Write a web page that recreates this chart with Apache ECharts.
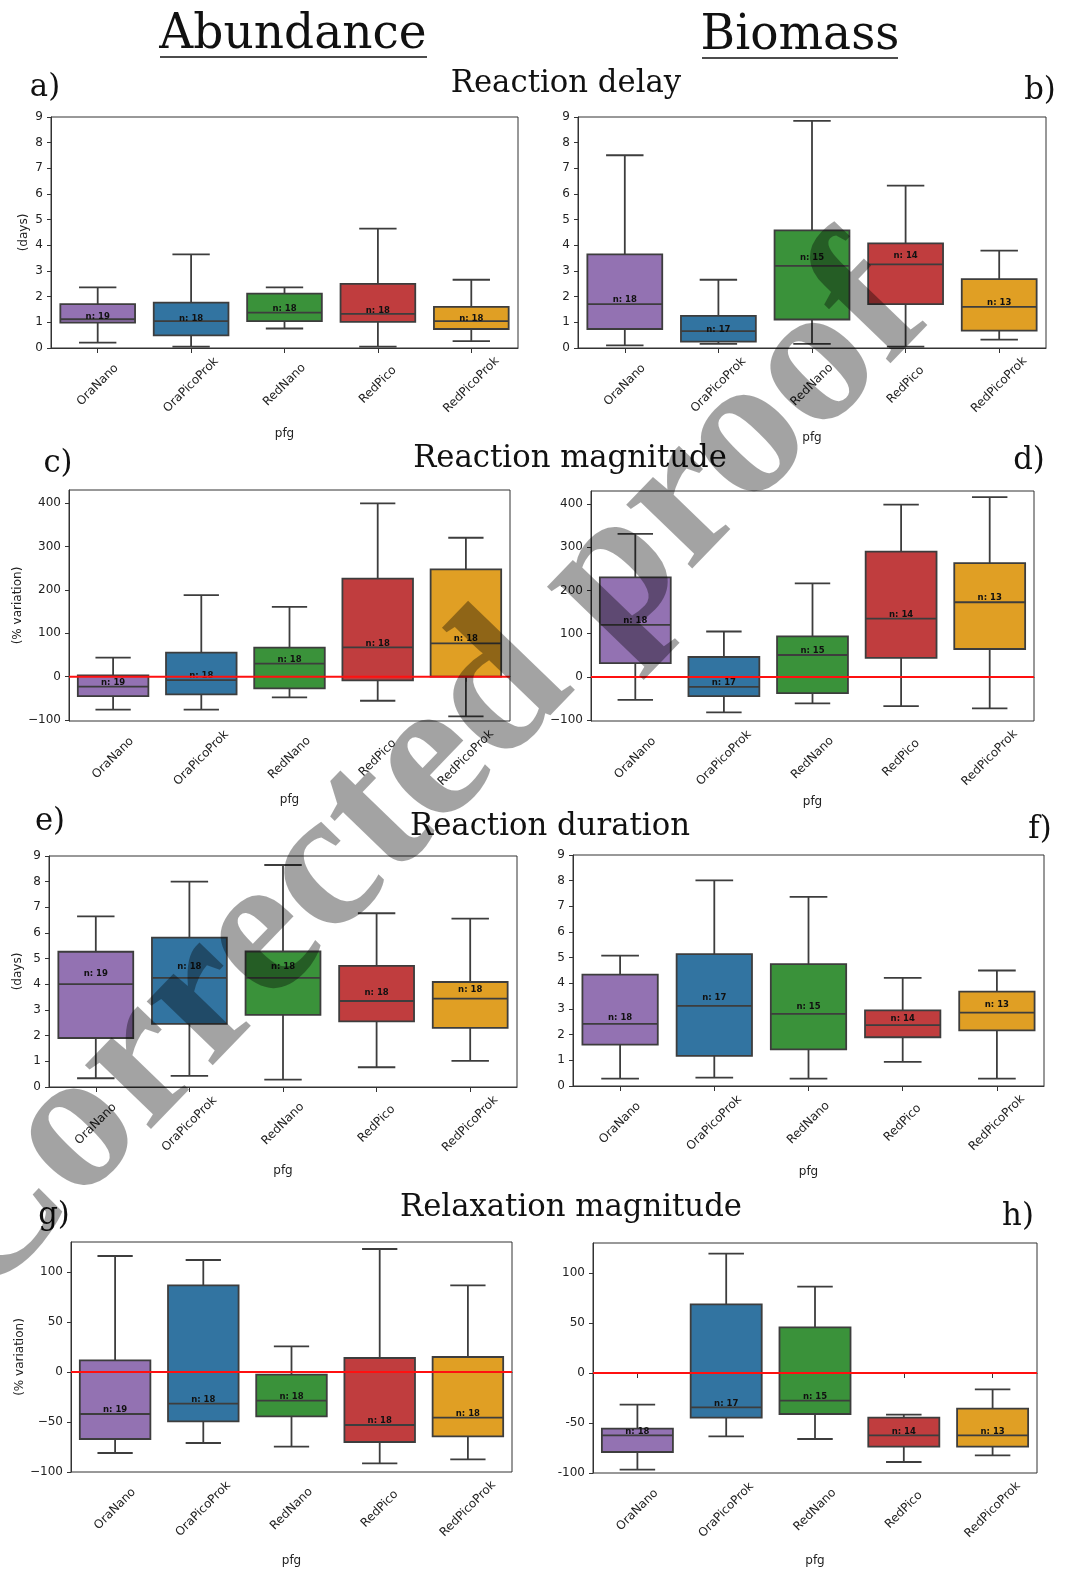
<!DOCTYPE html>
<html><head><meta charset="utf-8">
<script src="https://cdn.jsdelivr.net/npm/echarts@6/dist/echarts.min.js"></script>
<style>html,body{margin:0;padding:0;background:#fff}#c{width:1082px;height:1573px}</style>
</head><body><div id="c"></div><script>
const categories = ['OraNano', 'OraPicoProk', 'RedNano', 'RedPico', 'RedPicoProk'];
const boxColors = ['#9372b2', '#3274a1', '#3a923a', '#c03d3e', '#e09f24'];

// each box: [lower whisker, Q1, median, Q3, upper whisker]
const delayAbundance = [[0.21,0.99,1.12,1.71,2.36],[0.05,0.49,1.05,1.77,3.65],[0.76,1.05,1.38,2.12,2.36],[0.05,1.02,1.33,2.50,4.65],[0.27,0.74,1.05,1.60,2.66]];
const delayAbundanceN = [19,18,18,18,18];
const delayBiomass = [[0.10,0.74,1.71,3.65,7.51],[0.16,0.25,0.66,1.25,2.66],[0.16,1.11,3.20,4.58,8.85],[0.05,1.71,3.26,4.08,6.33],[0.33,0.68,1.60,2.68,3.79]];
const delayBiomassN = [18,17,15,14,13];
const magAbundance = [[-76,-44.6,-23,3,44],[-76,-40.8,-7.7,55.4,188],[-47.7,-27,30,67,161],[-55.4,-8.5,67.7,226,399],[-91.5,0,77,247,320]];
const magAbundanceN = [19,18,18,18,18];
const magBiomass = [[-53,32,120.5,230,331],[-82,-44.5,-23,46,105],[-61.4,-37.6,50.7,93.7,216.5],[-67.6,43.8,135,290,398.5],[-73,64.5,172.7,263,416]];
const magBiomassN = [18,17,15,14,13];
const durAbundance = [[0.34,1.91,4.01,5.27,6.65],[0.43,2.46,4.25,5.82,8.0],[0.29,2.81,4.25,5.28,8.65],[0.77,2.56,3.35,4.72,6.77],[1.02,2.30,3.44,4.09,6.56]];
const durAbundanceN = [19,18,18,18,18];
const durBiomass = [[0.29,1.61,2.42,4.34,5.08],[0.33,1.17,3.12,5.14,8.01],[0.29,1.43,2.81,4.75,7.37],[0.94,1.90,2.37,2.95,4.21],[0.29,2.17,2.86,3.68,4.50]];
const durBiomassN = [18,17,15,14,13];
const relAbundance = [[-81,-67,-42,11.7,116],[-71,-49.3,-31.7,86.7,112],[-74.7,-44.3,-28.7,-2.7,25.7],[-91.3,-70,-53,14,123],[-87.3,-64.3,-45.7,15,86.7]];
const relAbundanceN = [19,18,18,18,18];
const relBiomass = [[-96.7,-79,-62.3,-55.7,-31.7],[-63.3,-44.7,-34.3,68.7,119.3],[-66,-41,-27.7,45.7,86.3],[-89,-73.7,-62.3,-44.7,-41.7],[-82.3,-73.7,-62.3,-35.7,-16.3]];
const relBiomassN = [18,17,15,14,13];

const daysTicks = [0,1,2,3,4,5,6,7,8,9];
const magTicks = [-100,0,100,200,300,400];
const relTicks = [-100,-50,0,50,100];

const panels = [
  {stats: delayAbundance, n: delayAbundanceN, kind: 'days', range: [0, 9], ticks: daysTicks, zero: false,
   grid: {left: 51, top: 117, width: 467, height: 231}, yName: '(days)', yGap: 21, xGap: 80},
  {stats: delayBiomass, n: delayBiomassN, kind: 'days', range: [0, 9], ticks: daysTicks, zero: false,
   grid: {left: 578, top: 117, width: 468, height: 231}, yName: '', yGap: 20, xGap: 84},
  {stats: magAbundance, n: magAbundanceN, kind: 'pct', range: [-102, 430], ticks: magTicks, zero: true,
   grid: {left: 69, top: 490, width: 441, height: 231}, yName: '(% variation)', yGap: 34, xGap: 73},
  {stats: magBiomass, n: magBiomassN, kind: 'pct', range: [-102, 430], ticks: magTicks, zero: true,
   grid: {left: 591, top: 491, width: 443, height: 230}, yName: '', yGap: 20, xGap: 75},
  {stats: durAbundance, n: durAbundanceN, kind: 'days', range: [0, 9], ticks: daysTicks, zero: false,
   grid: {left: 49, top: 856, width: 468, height: 231}, yName: '(days)', yGap: 25, xGap: 78},
  {stats: durBiomass, n: durBiomassN, kind: 'days', range: [0, 9], ticks: daysTicks, zero: false,
   grid: {left: 573, top: 855, width: 471, height: 231}, yName: '', yGap: 20, xGap: 80},
  {stats: relAbundance, n: relAbundanceN, kind: 'pct', range: [-100, 130], ticks: relTicks, zero: true,
   grid: {left: 71, top: 1242, width: 441, height: 230}, yName: '(% variation)', yGap: 45, xGap: 83},
  {stats: relBiomass, n: relBiomassN, kind: 'pct', range: [-100, 130], ticks: relTicks, zero: true, hyphen: true,
   grid: {left: 593, top: 1243, width: 444, height: 230}, yName: '', yGap: 20, xGap: 82}
];

const SANS = 'DejaVu Sans';
const SERIF = 'DejaVu Serif';
const EDGE = '#3d3d3d';
const LW = 1.8;

function renderBox(kind) {
  return function (params, api) {
    const i = api.value(0);
    const v = [1, 2, 3, 4, 5].map(d => api.value(d));
    const n = api.value(6);
    const band = api.size([1, 0])[0];
    const x = api.coord([i, v[2]])[0];
    const y = v.map(val => api.coord([i, val])[1]);
    const bw = band * 0.8, cw = band * 0.4;
    const ln = {stroke: EDGE, lineWidth: LW};
    const ly = kind === 'days' ? api.coord([i, v[2] * 1.1])[1] : y[2] - 4;
    return {type: 'group', children: [
      {type: 'line', shape: {x1: x, y1: y[0], x2: x, y2: y[1]}, style: ln},
      {type: 'line', shape: {x1: x, y1: y[3], x2: x, y2: y[4]}, style: ln},
      {type: 'line', shape: {x1: x - cw / 2, y1: y[0], x2: x + cw / 2, y2: y[0]}, style: ln},
      {type: 'line', shape: {x1: x - cw / 2, y1: y[4], x2: x + cw / 2, y2: y[4]}, style: ln},
      {type: 'rect', shape: {x: x - bw / 2, y: y[3], width: bw, height: y[1] - y[3]},
       style: {fill: boxColors[i], stroke: EDGE, lineWidth: LW}},
      {type: 'line', shape: {x1: x - bw / 2, y1: y[2], x2: x + bw / 2, y2: y[2]}, style: ln},
      {type: 'text', style: {x: x, y: ly, text: 'n: ' + n, fill: '#111', fontSize: 8.5, fontWeight: 'bold',
        fontFamily: SANS, align: 'center', verticalAlign: 'middle'}}
    ]};
  };
}

function renderZero(params, api) {
  const cs = params.coordSys;
  const y = api.coord([0, api.value(1)])[1];
  return {type: 'line', shape: {x1: cs.x, y1: y, x2: cs.x + cs.width, y2: y},
          style: {stroke: '#ff1010', lineWidth: 2}};
}

const grids = [], xAxes = [], yAxes = [], series = [];
panels.forEach((p, k) => {
  grids.push(Object.assign({show: true, borderColor: '#333', borderWidth: 1, containLabel: false}, p.grid));
  xAxes.push({
    gridIndex: k, type: 'category', data: categories, boundaryGap: true,
    axisLine: {show: true, lineStyle: {color: '#333', width: 1}},
    axisTick: {show: true, alignWithLabel: true, length: 5, lineStyle: {color: '#333'}},
    axisLabel: {interval: 0, rotate: 45, align: 'center', verticalAlign: 'middle', margin: 37,
                fontSize: 12, color: '#222', fontFamily: SANS},
    splitLine: {show: false},
    name: 'pfg', nameLocation: 'middle', nameGap: p.xGap,
    nameTextStyle: {fontSize: 12, color: '#222', fontFamily: SANS}
  });
  const fmt = v => (v < 0 ? (p.hyphen ? '-' : '\u2212') + Math.abs(v) : String(v));
  const y = {
    gridIndex: k, type: 'value', min: p.range[0], max: p.range[1],
    axisLine: {show: true, lineStyle: {color: '#333', width: 1}},
    axisTick: {show: true, length: 4, lineStyle: {color: '#333'}},
    axisLabel: {fontSize: 12, color: '#222', fontFamily: SANS, margin: 8, formatter: fmt},
    splitLine: {show: false},
    name: p.yName, nameLocation: 'middle', nameGap: p.yGap,
    nameTextStyle: {fontSize: 12, color: '#222', fontFamily: SANS}
  };
  if (p.kind === 'days') {
    y.interval = 1;
  } else {
    y.axisTick.customValues = p.ticks;
    y.axisLabel.customValues = p.ticks;
  }
  yAxes.push(y);
  series.push({
    type: 'custom', coordinateSystem: 'cartesian2d', xAxisIndex: k, yAxisIndex: k,
    data: p.stats.map((s, i) => [i].concat(s, [p.n[i]])),
    encode: {x: 0, y: [1, 2, 3, 4, 5]},
    renderItem: renderBox(p.kind), silent: true, z: 2
  });
  if (p.zero) {
    series.push({
      type: 'custom', coordinateSystem: 'cartesian2d', xAxisIndex: k, yAxisIndex: k,
      data: [[0, 0]], encode: {x: 0, y: 1}, renderItem: renderZero, silent: true, z: 5
    });
  }
});

function serifText(txt, x, y, size) {
  return {type: 'text', x: x, y: y, scaleX: 0.96, z: 10,
    style: {text: txt, fontSize: size, fontFamily: SERIF, fill: '#111', align: 'center', verticalAlign: 'middle'}};
}

const graphics = [
  serifText('Abundance', 293, 35, 49),
  {type: 'line', z: 10, shape: {x1: 160, y1: 57, x2: 427, y2: 57}, style: {stroke: '#111', lineWidth: 1.5}},
  serifText('Biomass', 800, 36, 49),
  {type: 'line', z: 10, shape: {x1: 702, y1: 58, x2: 898, y2: 58}, style: {stroke: '#111', lineWidth: 1.5}},
  serifText('Reaction delay', 566, 84, 32),
  serifText('a)', 45, 88, 32),
  serifText('b)', 1040, 91, 32),
  serifText('Reaction magnitude', 570, 459, 32),
  serifText('c)', 58, 464, 32),
  serifText('d)', 1029, 461, 32),
  serifText('Reaction duration', 550, 827, 32),
  serifText('e)', 50, 822, 32),
  serifText('f)', 1040, 830, 32),
  serifText('Relaxation magnitude', 571, 1208, 32),
  serifText('g)', 54, 1216, 32),
  serifText('h)', 1018, 1217, 32),
  {type: 'text', x: 418, y: 778, rotation: 46 * Math.PI / 180, z: 100,
   style: {text: 'Corrected proof', fontSize: 200, fontWeight: 'bold', fontFamily: 'Liberation Serif',
           fill: 'rgba(0,0,0,0.36)', align: 'center', verticalAlign: 'middle'}}
];

const chart = echarts.init(document.getElementById('c'), null, {renderer: 'canvas'});
chart.setOption({
  animation: false,
  backgroundColor: '#ffffff',
  grid: grids, xAxis: xAxes, yAxis: yAxes, series: series,
  graphic: graphics
});
</script></body></html>
